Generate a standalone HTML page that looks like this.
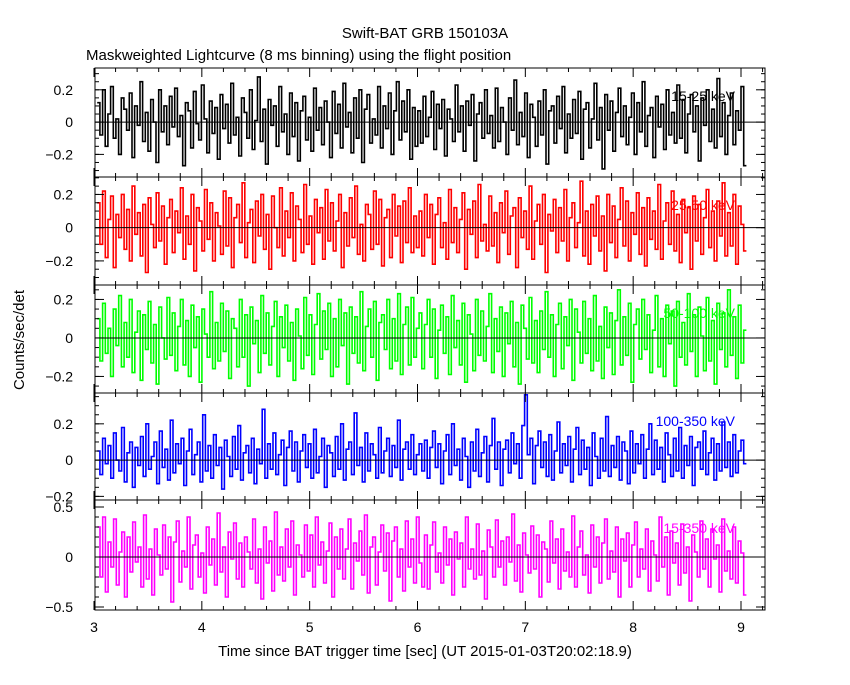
<!DOCTYPE html>
<html><head><meta charset="utf-8"><style>
body{margin:0;background:#fff}
svg{font-family:"Liberation Sans",sans-serif}
</style></head><body>
<svg id="c" width="850" height="680">
<text x="425" y="38" font-size="15" text-anchor="middle">Swift-BAT GRB 150103A</text>
<text x="86" y="60" font-size="15">Maskweighted Lightcurve (8 ms binning) using the flight position</text>
<text x="24" y="340" font-size="15" text-anchor="middle" transform="rotate(-90 24 340)">Counts/sec/det</text>
<text x="425" y="656" font-size="15" text-anchor="middle">Time since BAT trigger time [sec] (UT 2015-01-03T20:02:18.9)</text>
</svg>
<script>
const xTicks=[3,4,5,6,7,8,9];
const bandLabels=["15-25 keV","25-50 keV","50-100 keV","100-350 keV","15-350 keV"];
const tStart=3.03, tEnd=9.05;
const s1=[.12,-.08,.2,-.15,.05,.22,-.1,.02,-.2,.15,.08,-.05,.18,-.22,.1,-.02,.25,-.12,.06,-.18,.14,.0,-.25,.2,-.06,.1,-.14,.16,-.03,.21,-.09,.04,-.27,.12,.07,-.16,.19,-.01,-.11,.23,.02,-.19,.13,-.07,.09,-.23,.17,-.04,.11,-.13,.24,-.08,.03,-.21,.15,.06,-.1,.2,-.17,.01,.28,-.12,.08,-.26,.14,-.02,.1,-.15,.22,-.06,.05,-.2,.18,-.09,.12,-.24,.07,.16,-.11,.03,-.18,.21,-.05,.09,-.14,.13,.0,-.22,.19,-.07,.11,-.16,.24,-.03,.06,-.19,.15,-.1,.2,-.25,.08,.17,-.13,.02,-.08,.22,-.16,.1,-.04,.18,-.2,.07,.25,-.11,.13,-.06,.2,-.23,.09,-.15,
.07,-.13,.16,-.09,.03,.19,-.17,.11,-.04,.14,-.21,.08,.02,-.12,.23,-.06,.1,-.18,.13,-.02,.17,-.24,.05,.12,-.1,.2,-.07,.04,-.16,.21,-.12,.09,.0,-.2,.15,-.05,.26,-.14,.06,-.09,.18,-.22,.11,.03,-.15,.13,-.08,.2,-.26,.07,.1,-.13,.16,-.04,.22,-.19,.05,-.1,.14,-.07,.19,-.23,.08,.12,-.16,.02,.24,-.11,.09,-.29,.17,-.05,.13,-.18,.06,.21,-.09,.1,-.14,.03,.18,-.2,.12,-.06,.25,-.15,.04,.09,-.22,.16,-.03,.11,-.17,.2,-.08,.06,-.13,.23,-.1,.14,-.19,.05,.17,-.06,.1,-.24,.15,-.02,.2,-.12,.08,-.16,.27,-.09,.12,-.2,.04,.18,-.14,.07,-.05,.22,-.27];
const s2=[.15,-.1,.22,-.18,.05,.19,-.24,.08,-.06,.2,-.13,.11,-.2,.25,-.04,.09,-.17,.14,-.27,.18,.02,-.12,.21,-.08,.13,-.22,.06,.17,-.15,.1,-.03,.24,-.19,.07,-.1,.2,-.26,.12,.04,-.14,.23,-.07,.15,-.2,.09,.01,-.16,.22,-.11,.18,-.24,.06,.14,-.09,.27,-.18,.03,.11,-.21,.16,-.05,.2,-.13,.08,-.25,.19,.0,-.12,.24,-.17,.1,-.06,.21,-.2,.13,.05,-.15,.26,-.1,.07,-.22,.17,-.03,.12,-.19,.23,-.08,.15,-.14,.04,.2,-.24,.09,-.11,.18,-.06,.25,-.16,.02,-.2,.14,.08,-.13,.22,-.1,.17,-.23,.06,.11,-.18,.2,-.05,.13,-.21,.16,-.09,.24,-.15,.07,-.12,
.1,-.17,.2,-.06,.14,-.22,.08,.18,-.12,.03,-.19,.23,-.09,.12,-.15,.05,.21,-.25,.11,-.04,.16,-.18,.26,-.08,.02,-.14,.19,-.11,.09,-.21,.15,-.03,.22,-.16,.07,.12,-.24,.18,-.06,.1,-.13,.25,-.19,.04,.14,-.1,.2,-.27,.08,-.02,.17,-.15,.12,-.08,.23,-.2,.06,.15,-.12,.03,.28,-.17,.1,-.22,.14,-.05,.19,-.14,.07,-.26,.2,-.09,.13,-.18,.05,.24,-.11,.16,-.2,.09,-.04,.21,-.16,.12,-.23,.18,-.07,.1,-.13,.26,-.19,.04,.15,-.1,.22,-.14,.08,-.21,.17,-.03,.12,-.25,.19,-.08,.14,-.16,.06,.23,-.12,.1,-.2,.16,-.05,.27,-.17,.09,-.11,.2,-.22,.13,.02,-.14];
const s3=[.1,-.12,.18,-.08,.05,-.2,.15,-.04,.22,-.15,.08,-.1,.2,-.18,.03,.14,-.22,.12,-.06,.19,-.13,.07,-.24,.16,.0,-.11,.21,-.09,.13,-.17,.06,.2,-.14,.09,-.2,.17,-.05,.11,-.23,.15,.02,-.1,.24,-.16,.08,-.12,.18,-.07,.14,-.21,.1,.05,-.15,.2,-.1,.12,-.25,.16,-.03,.09,-.18,.22,-.08,.13,-.14,.06,.19,-.2,.11,-.05,.17,-.12,.08,-.22,.15,.01,-.16,.21,-.09,.12,-.19,.07,.23,-.11,.14,-.06,.18,-.2,.1,-.15,.2,-.04,.13,-.24,.16,-.08,.11,-.13,.24,-.17,.06,.15,-.1,.19,-.22,.08,.12,-.06,.2,-.16,.1,-.12,.23,-.19,.07,.16,-.14,.21,-.1,.05,
.13,-.16,.07,.2,-.1,.15,-.21,.04,.17,-.08,.11,-.19,.22,-.05,.09,-.14,.18,-.23,.12,.02,-.17,.2,-.09,.14,-.12,.06,.23,-.18,.1,-.07,.16,-.2,.13,-.03,.19,-.15,.08,-.24,.17,.05,-.11,.21,-.13,.09,-.18,.14,-.06,.24,-.1,.12,-.2,.07,.18,-.16,.11,-.04,.2,-.22,.15,.03,-.13,.19,-.08,.1,-.17,.22,-.12,.06,-.21,.16,-.05,.13,-.19,.09,.25,-.14,.11,-.09,.18,-.23,.07,.15,-.11,.2,-.06,.12,-.18,.04,.22,-.15,.1,-.2,.17,-.03,.14,-.25,.19,-.1,.08,-.14,.23,-.07,.12,-.2,.16,.01,-.17,.21,-.12,.09,-.24,.18,-.06,.13,-.15,.25,-.09,.11,-.21,.17,-.13,.04];
const s4=[.05,-.08,.12,-.02,.08,-.1,.15,.0,-.06,.18,-.12,.04,.1,-.15,.07,-.03,.13,-.09,.2,-.05,.02,.1,-.13,.16,-.04,.06,-.11,.22,-.07,.09,-.02,.12,-.14,.05,.17,-.08,.03,.1,-.12,.25,-.06,.08,-.1,.14,-.03,.07,-.16,.11,.02,-.09,.13,-.05,.19,-.11,.04,.08,-.07,.12,-.13,.06,-.02,.28,-.1,.09,-.05,.15,-.08,.03,.11,-.14,.07,.16,-.06,.1,-.12,.05,.14,-.04,.09,-.1,.17,-.07,.02,.12,-.15,.08,.04,-.09,.13,-.05,.2,-.11,.06,.1,-.08,.26,-.03,.07,-.12,.15,-.06,.09,.03,-.1,.18,-.07,.05,.12,-.09,.08,-.04,.22,-.11,.06,.1,-.05,.14,-.08,.03,.09,
-.06,.11,-.1,.07,.16,-.04,.09,-.13,.05,.14,-.08,.2,-.03,.06,-.11,.12,.02,-.15,.1,-.06,.17,-.09,.04,.13,-.12,.08,.23,-.05,.1,-.14,.06,.11,-.07,.15,-.02,.09,-.1,.19,.36,.03,.12,-.13,.08,.16,-.04,.1,-.09,.14,-.11,.05,.21,-.07,.09,-.03,.13,-.12,.06,.18,-.08,.11,-.05,.07,-.14,.15,.02,-.1,.12,-.06,.24,-.09,.08,-.04,.13,-.11,.1,.05,-.13,.16,-.07,.09,-.02,.14,-.1,.06,.2,-.08,.11,-.05,.07,-.12,.15,.03,-.09,.12,-.06,.18,-.1,.08,-.03,.13,-.14,.07,.1,-.05,.16,-.08,.04,.12,-.11,.09,-.06,.21,-.04,.1,-.09,.14,-.07,.05,.11,-.02];
const s5=[.3,-.2,.4,-.35,.15,-.1,.38,-.28,.05,.25,-.4,.2,-.15,.35,-.05,.1,-.3,.42,-.22,.08,-.38,.28,.02,-.18,.32,-.12,.2,-.45,.15,.36,-.25,.06,-.1,.4,-.32,.12,.22,-.2,.04,-.36,.3,-.08,.18,-.28,.44,-.15,.1,-.4,.25,-.02,.34,-.22,.14,-.3,.2,.05,-.12,.38,-.26,.08,-.42,.3,-.06,.16,-.34,.45,-.18,.1,-.24,.28,-.1,.36,-.38,.12,.02,-.2,.32,-.14,.22,-.3,.4,-.08,.15,-.26,.06,.34,-.4,.2,-.12,.28,-.22,.08,.38,-.32,.14,-.04,.26,-.18,.42,-.36,.1,.2,-.28,.05,.32,-.14,.24,-.44,.16,.3,-.2,.08,-.34,.36,-.1,.18,-.26,.4,-.06,-.3,
.22,-.32,.12,.35,-.15,.04,-.26,.3,-.08,.18,-.38,.25,-.02,.14,-.3,.4,-.12,.08,-.22,.33,-.18,.06,-.42,.27,.1,-.2,.37,-.1,.16,-.28,.2,-.05,.43,-.24,.12,-.35,.24,.02,-.16,.31,-.12,.22,-.4,.15,.08,-.25,.36,-.06,.18,-.32,.28,-.14,.05,-.2,.41,-.3,.1,.26,-.18,.02,-.36,.32,-.1,.2,-.26,.14,.38,-.22,.06,-.15,.3,-.4,.18,-.04,.24,-.3,.12,.35,-.2,.08,-.12,.28,-.34,.16,.02,-.24,.4,-.1,.2,-.38,.26,-.06,.14,-.28,.33,-.16,.1,-.44,.22,.05,-.2,.36,-.12,.18,-.3,.28,-.02,.12,-.35,.38,-.14,.06,-.22,.3,-.26,.16,.04,-.38];
const series=[s1,s2,s3,s4,s5];
const colors=["#000","#f00","#0f0","#00f","#f0f"];
const panels=[{top:68,bot:177,y0:.335,y1:-.34,ticks:[.2,0,-.2],lab:["0.2","0","\u22120.2"],minor:.05},
{top:177,bot:285,y0:.305,y1:-.345,ticks:[.2,0,-.2],lab:["0.2","0","\u22120.2"],minor:.05},
{top:285,bot:393,y0:.275,y1:-.286,ticks:[.2,0,-.2],lab:["0.2","0","\u22120.2"],minor:.05},
{top:393,bot:500,y0:.37,y1:-.22,ticks:[.2,0,-.2],lab:["0.2","0","\u22120.2"],minor:.05},
{top:500,bot:610,y0:.57,y1:-.53,ticks:[.5,0,-.5],lab:["0.5","0","\u22120.5"],minor:.1}];
const L=95,R=765;
const X=t=>94+(t-3)*(741-94)/6;
const svg=document.getElementById('c');const NS="http://www.w3.org/2000/svg";
function mk(tag,at){const e=document.createElementNS(NS,tag);for(const k in at)e.setAttribute(k,at[k]);svg.appendChild(e);return e;}
panels.forEach((p,i)=>{
 const Y=v=>p.top+(p.y0-v)/(p.y0-p.y1)*(p.bot-p.top);
 const d=series[i];const w=(tEnd-tStart)/d.length;let path="";
 d.forEach((v,j)=>{const x0=X(tStart+j*w),x1=X(tStart+(j+1)*w),y=Y(v);path+=(j?"L":"M")+x0.toFixed(1)+","+y.toFixed(1)+"L"+x1.toFixed(1)+","+y.toFixed(1);});
 const ln=mk('path',{d:path,fill:'none',stroke:colors[i],'stroke-width':1.6});
 
 
 const z=mk('line',{x1:L,x2:R,y1:Y(0),y2:Y(0),stroke:'#000','stroke-width':1});
 
 
 const fr=mk('rect',{x:L,y:p.top,width:R-L,height:p.bot-p.top,fill:'none',stroke:'#000','stroke-width':1});
 
 
 for(let v=Math.ceil(p.y1/p.minor)*p.minor;v<=p.y0;v+=p.minor){const y=Y(v);mk('line',{x1:L,x2:L+4,y1:y,y2:y,stroke:'#000'});mk('line',{x1:R,x2:R-4,y1:y,y2:y,stroke:'#000'});}
 p.ticks.forEach((v,k)=>{const y=Y(v);mk('line',{x1:L,x2:L+9,y1:y,y2:y,stroke:'#000'});mk('line',{x1:R,x2:R-9,y1:y,y2:y,stroke:'#000'});
  const t=mk('text',{x:L-22,y:y+5,'font-size':14,'text-anchor':'end'});t.textContent=p.lab[k];
  
  });
 xTicks.forEach(tk=>{for(let m=0;m<5;m++){const x=X(tk+m*.2);if(x>R)break;const h=m?4:9;mk('line',{x1:x,x2:x,y1:p.bot,y2:p.bot-h,stroke:'#000'});mk('line',{x1:x,x2:x,y1:p.top,y2:p.top+h,stroke:'#000'});}});
 const lb=mk('text',{x:735,y:p.top+33,'font-size':14,'text-anchor':'end',fill:colors[i]});lb.textContent=bandLabels[i];
 
 
});
xTicks.forEach(tk=>{const t=mk('text',{x:X(tk),y:632,'font-size':14,'text-anchor':'middle'});t.textContent=tk;
 
 });
</script>
</body></html>
